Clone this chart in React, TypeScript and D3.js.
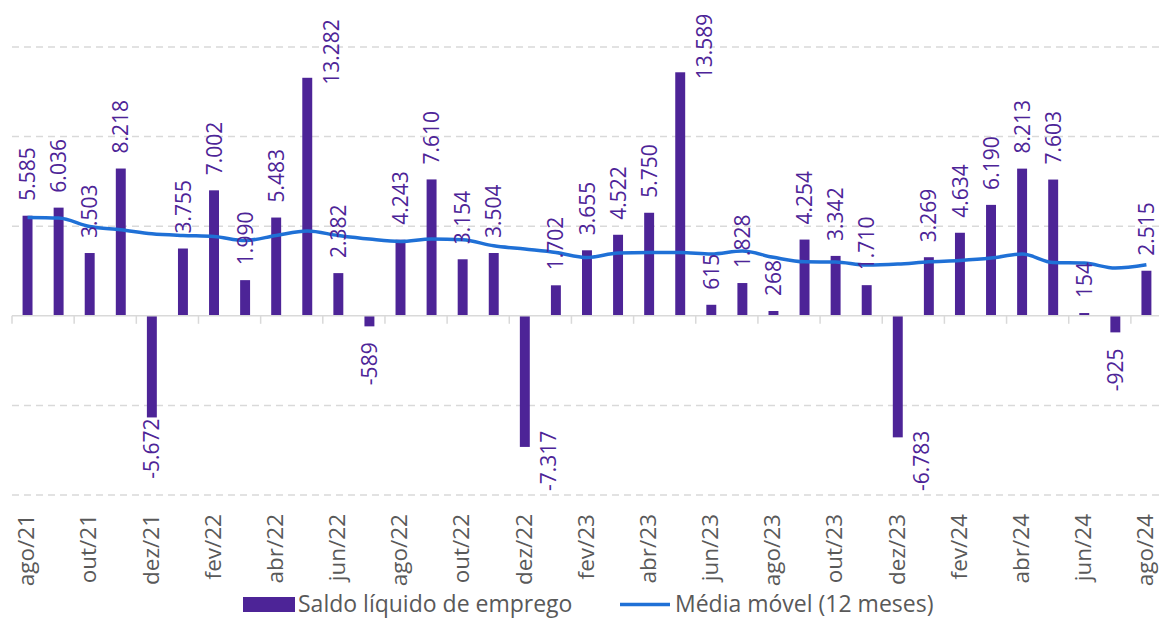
import React, { useEffect, useRef } from 'react';
import * as d3 from 'd3';

// months shown on the category axis
const months = [
  'ago/21', 'set/21', 'out/21', 'nov/21', 'dez/21',
  'jan/22', 'fev/22', 'mar/22', 'abr/22', 'mai/22', 'jun/22', 'jul/22', 'ago/22', 'set/22', 'out/22', 'nov/22', 'dez/22',
  'jan/23', 'fev/23', 'mar/23', 'abr/23', 'mai/23', 'jun/23', 'jul/23', 'ago/23', 'set/23', 'out/23', 'nov/23', 'dez/23',
  'jan/24', 'fev/24', 'mar/24', 'abr/24', 'mai/24', 'jun/24', 'jul/24', 'ago/24',
];

// Saldo líquido de emprego
const saldo = [
  5585, 6036, 3503, 8218, -5672,
  3755, 7002, 1990, 5483, 13282, 2382, -589, 4243, 7610, 3154, 3504, -7317,
  1702, 3655, 4522, 5750, 13589, 615, 1828, 268, 4254, 3342, 1710, -6783,
  3269, 4634, 6190, 8213, 7603, 154, -925, 2515,
];

// Média móvel (12 meses)
const media = [
  5485, 5452, 4983, 4799, 4576,
  4481, 4425, 4202, 4481, 4726, 4481, 4280, 4146, 4280, 4241, 3906, 3722,
  3532, 3253, 3499, 3532, 3532, 3443, 3610, 3264, 3013, 2996, 2829, 2885,
  3013, 3086, 3220, 3443, 2974, 2941, 2662, 2846,
];

const gridValues = [-10000, -5000, 5000, 10000, 15000];

const BAR = '#4D2497';
const LINE = '#1F70D6';
const GRID = '#D9D9D9';
const TEXT = '#595959';
const FONT = '"Open Sans", "Noto Sans", sans-serif';

const fmt = (v: number) => {
  const s = Math.abs(v).toString().replace(/\B(?=(\d{3})+(?!\d))/g, '.');
  return (v < 0 ? '-' : '') + s;
};

export default function App() {
  const ref = useRef<SVGSVGElement>(null);

  useEffect(() => {
    const svg = d3.select(ref.current);
    svg.selectAll('*').remove();

    const left = 12;
    const step = 31.08;
    const x = d3.scaleBand<string>()
      .domain(months)
      .range([left, left + step * months.length])
      .paddingInner(0.68)
      .paddingOuter(0.34);
    const cx = (m: string) => (x(m) as number) + x.bandwidth() / 2;

    const y = d3.scaleLinear().domain([-10000, 15000]).range([495, 47]);
    const right = left + step * months.length;

    // gridlines
    svg.append('g')
      .selectAll('line')
      .data(gridValues)
      .enter().append('line')
      .attr('x1', left).attr('x2', right)
      .attr('y1', (d) => y(d)).attr('y2', (d) => y(d))
      .attr('stroke', GRID)
      .attr('stroke-width', 1.5)
      .attr('stroke-dasharray', '7,5');

    // bars
    svg.append('g')
      .selectAll('rect')
      .data(saldo)
      .enter().append('rect')
      .attr('x', (_, i) => x(months[i]) as number)
      .attr('width', x.bandwidth())
      .attr('y', (d) => Math.min(y(d), y(0)))
      .attr('height', (d) => Math.abs(y(d) - y(0)))
      .attr('fill', BAR);

    // zero axis with ticks every two months
    svg.append('line')
      .attr('x1', left).attr('x2', right)
      .attr('y1', y(0)).attr('y2', y(0))
      .attr('stroke', GRID).attr('stroke-width', 1.5);
    svg.append('g')
      .selectAll('line')
      .data(months.filter((_, i) => i % 2 === 0))
      .enter().append('line')
      .attr('x1', (m) => (x(m) as number) - x.step() * x.paddingInner() / 2)
      .attr('x2', (m) => (x(m) as number) - x.step() * x.paddingInner() / 2)
      .attr('y1', y(0)).attr('y2', y(0) + 8)
      .attr('stroke', GRID).attr('stroke-width', 1.5);

    // moving average
    const line = d3.line<number>()
      .x((_, i) => cx(months[i]))
      .y((d) => y(d))
      .curve(d3.curveMonotoneX);
    svg.append('path')
      .datum(media)
      .attr('d', line)
      .attr('fill', 'none')
      .attr('stroke', LINE)
      .attr('stroke-width', 3.5)
      .attr('stroke-linejoin', 'round');

    // data labels (rotated)
    const labels = svg.append('g')
      .attr('font-family', FONT)
      .attr('font-size', 21)
      .attr('fill', BAR);
    saldo.forEach((v, i) => {
      const px = cx(months[i]);
      const t = labels.append('text')
        .attr('dy', '0.36em')
        .text(fmt(v));
      const len = (t.node() as SVGTextElement).getComputedTextLength();
      let lx = px;
      let start: number; // y where the text starts (bottom end)
      if (v >= 0) {
        start = y(v) - 15;
        if (start - len < 14) {
          lx = px + 24;
          start = y(v) + 7;
        }
      } else {
        let top = y(v) + 16;
        if (top + len > 484) {
          top = y(v) + 1;
          if (top + len > 484) {
            lx = px + 24;
            top = 491 - len;
          }
        }
        start = top + len;
      }
      t.attr('transform', `translate(${lx},${start}) rotate(-90)`);
    });

    // category axis labels
    svg.append('g')
      .attr('font-family', FONT)
      .attr('font-size', 22.5)
      .attr('fill', TEXT)
      .selectAll('text')
      .data(months.filter((_, i) => i % 2 === 0))
      .enter().append('text')
      .attr('text-anchor', 'end')
      .attr('dy', '0.3em')
      .attr('transform', (m) => `translate(${cx(m)},514) rotate(-90)`)
      .text((m) => m);

    // legend
    const lg = svg.append('g')
      .attr('font-family', FONT)
      .attr('font-size', 23)
      .attr('fill', TEXT);
    lg.append('rect')
      .attr('x', 243).attr('y', 597).attr('width', 52).attr('height', 15)
      .attr('fill', BAR);
    lg.append('text').attr('x', 298).attr('y', 612).text('Saldo líquido de emprego');
    lg.append('line')
      .attr('x1', 620).attr('x2', 670).attr('y1', 604.5).attr('y2', 604.5)
      .attr('stroke', LINE).attr('stroke-width', 3.5);
    lg.append('text').attr('x', 675).attr('y', 612).text('Média móvel (12 meses)');
  }, []);

  return (
    <svg
      ref={ref}
      width={1159}
      height={619}
      style={{ position: 'absolute', left: 0, top: 0, display: 'block', background: '#fff' }}
    />
  );
}
